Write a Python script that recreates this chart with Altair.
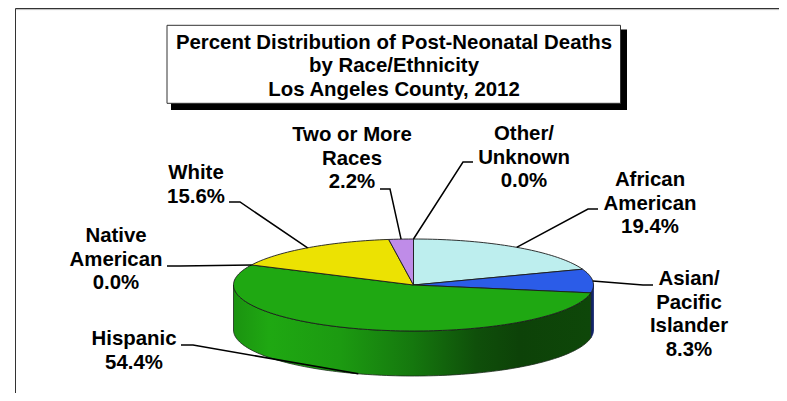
import math
import altair as alt
import pandas as pd

# --- chart values ---
categories = ["African American", "Asian/ Pacific Islander", "Hispanic", "Native American",
              "White", "Two or More Races", "Other/ Unknown"]
values = [19.4, 8.3, 54.4, 0.0, 15.6, 2.2, 0.0]
label_lines = [["African", "American"], ["Asian/", "Pacific", "Islander"], ["Hispanic"],
               ["Native", "American"], ["White"], ["Two or More", "Races"], ["Other/", "Unknown"]]
colors = ["#BDEEEE", "#2B5CE8", "#1FA812", "#1FA812", "#ECE202", "#BF8CE8", "#BF8CE8"]
title_lines = ["Percent Distribution of Post-Neonatal Deaths", "by Race/Ethnicity", "Los Angeles County, 2012"]

# --- layout (page pixels) ---
W, H = 779, 393
CX, CY, RX, RY, DEPTH = 413.5, 285.0, 180.0, 46.0, 45.0
label_cx = [650, 689, 134, 116, 196, 352, 524]
label_y0 = [180, 279, 339, 236, 173, 135, 134]
leader_start = [(598, 209), (653, 285), (181, 345), (167, 266), (229, 202), (380, 189), (473, 162)]
leader_elbow = [(588, 209), (643, 285), (193, 345), (180, 266), (240, 202), (390, 189), (463, 162)]
FONT = "Liberation Sans"
FS = 20.4


def pt(deg, drop=0.0):
    r = math.radians(deg)
    return CX + RX * math.sin(r), CY - RY * math.cos(r) + drop


total = sum(values)
edges = [0.0]
for v in values:
    edges.append(edges[-1] + v / total * 360)

xs = alt.Scale(domain=[8, W], range=[0, W - 8])
ys = alt.Scale(domain=[H, 8], range=[H - 8, 0])


def X(f):
    return alt.X(f, type="quantitative", scale=xs, axis=None)


def Y(f):
    return alt.Y(f, type="quantitative", scale=ys, axis=None)


# top surface sectors
top_rows = []
for i, c in enumerate(categories):
    a0, a1 = edges[i], edges[i + 1]
    if a1 - a0 < 1e-6:
        continue
    n = max(2, int((a1 - a0) / 1.5))
    top_rows.append(dict(cat=c, k=0, x=CX, y=CY))
    for j in range(n + 1):
        px, py = pt(a0 + (a1 - a0) * j / n)
        top_rows.append(dict(cat=c, k=j + 1, x=px, y=py))
    top_rows.append(dict(cat=c, k=n + 2, x=CX, y=CY))
top_df = pd.DataFrame(top_rows)


# side wall polygons: along the rim, then back along the lower edge
def wall(a0, a1):
    n = max(2, int((a1 - a0) / 1.5))
    rows = []
    for j in range(n + 1):
        px, py = pt(a0 + (a1 - a0) * j / n)
        rows.append(dict(x=px, y=py, k=j))
    for j in range(n + 1):
        px, py = pt(a1 - (a1 - a0) * j / n, DEPTH)
        rows.append(dict(x=px, y=py, k=n + 1 + j))
    rows.append(dict(x=rows[0]["x"], y=rows[0]["y"], k=2 * n + 2))
    return pd.DataFrame(rows)


hisp0 = edges[2]
wall_h = wall(hisp0, 270)
wall_a = wall(90, hisp0)
wall_grad = alt.Gradient(
    gradient="linear", x1=0, x2=1, y1=0, y2=0,
    stops=[alt.GradientStop(offset=0, color="#1B9310"),
           alt.GradientStop(offset=0.10, color="#1FA812"),
           alt.GradientStop(offset=0.30, color="#1C9A11"),
           alt.GradientStop(offset=0.50, color="#15780E"),
           alt.GradientStop(offset=0.68, color="#0F4F0A"),
           alt.GradientStop(offset=0.80, color="#0D4208"),
           alt.GradientStop(offset=1, color="#0E4709")])

# leaders and labels
lead_rows, label_rows = [], []
for i, c in enumerate(categories):
    mid = (edges[i] + edges[i + 1]) / 2
    drop = DEPTH if c == "Hispanic" else 0
    ax, ay = pt(mid, drop)
    for k, (px, py) in enumerate([leader_start[i], leader_elbow[i], (ax, ay)]):
        lead_rows.append(dict(cat=c, k=k, x=px, y=py))
    label_rows.append(dict(x=label_cx[i], y=label_y0[i],
                           t="\n".join(label_lines[i] + [f"{values[i]:.1f}%"])))
lead_df = pd.DataFrame(lead_rows)
label_df = pd.DataFrame(label_rows)

frame = alt.Chart(pd.DataFrame([
    dict(x=15.5, x2=15.5, y=8.5, y2=H, c="#333333"),
    dict(x=15.5, x2=W, y=8.5, y2=8.5, c="#333333"),
    dict(x=16, x2=W, y=9.6, y2=9.6, c="#BBBBBB"),
])).mark_rule(strokeWidth=1).encode(
    x=X("x"), x2=alt.X2("x2"), y=Y("y"), y2=alt.Y2("y2"),
    color=alt.Color("c:N", scale=None))

box = pd.DataFrame([dict(x=167, x2=620.5, y=25.3, y2=103.3, sx=171, sx2=627, sy=29.5, sy2=110)])
shadow = alt.Chart(box).mark_rect(color="black").encode(
    x=X("sx"), x2=alt.X2("sx2"), y=Y("sy"), y2=alt.Y2("sy2"))
boxm = alt.Chart(box).mark_rect(fill="white", stroke="#333333", strokeWidth=1).encode(
    x=X("x"), x2=alt.X2("x2"), y=Y("y"), y2=alt.Y2("y2"))
title_df = pd.DataFrame({"t": title_lines, "x": [394, 394, 394], "y": [42.5, 65.5, 89.5]})
title = alt.Chart(title_df).mark_text(font=FONT, fontSize=FS, fontWeight="bold", color="black",
                                      align="center", baseline="middle").encode(
    x=X("x"), y=Y("y"), text="t:N")

w1 = alt.Chart(wall_a).mark_line(fill="#12256B", stroke="#12256B", strokeWidth=0.8).encode(
    x=X("x"), y=Y("y"), order="k:Q")
w2 = alt.Chart(wall_h).mark_line(fill=wall_grad, stroke="#1a2a1a", strokeWidth=0.8).encode(
    x=X("x"), y=Y("y"), order="k:Q")
top = alt.Chart(top_df).mark_line(stroke="#1c1c1c", strokeWidth=0.9, strokeJoin="round").encode(
    x=X("x"), y=Y("y"), order="k:Q",
    fill=alt.Fill("cat:N", scale=alt.Scale(domain=categories, range=colors), legend=None),
    detail="cat:N")
leaders = alt.Chart(lead_df).mark_line(color="black", strokeWidth=1.5).encode(
    x=X("x"), y=Y("y"), order="k:Q", detail="cat:N")
labels = alt.Chart(label_df).mark_text(font=FONT, fontSize=FS, fontWeight="bold", color="black",
                                       align="center", baseline="middle", lineBreak="\n",
                                       lineHeight=23.6).encode(x=X("x"), y=Y("y"), text="t:N")

chart = alt.layer(frame, shadow, boxm, title, w1, w2, top, leaders, labels).properties(
    width=W - 8, height=H - 8, padding=0, background="white",
    autosize=alt.AutoSizeParams(type="none")
).configure_view(stroke=None)

chart.save("out.html", embed_options={"renderer": "svg", "actions": False})
